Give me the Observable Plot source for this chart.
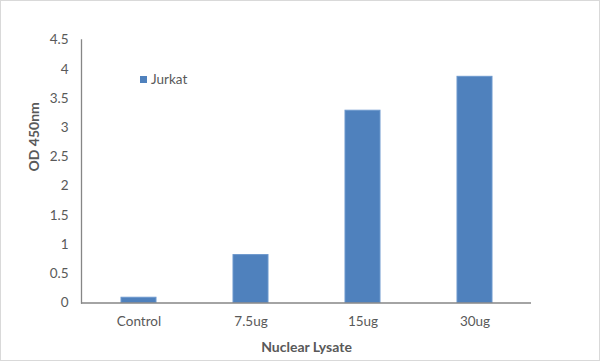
<!DOCTYPE html>
<html>
<head>
<meta charset="utf-8">
<script src="https://cdn.jsdelivr.net/npm/d3@7"></script>
<script src="https://cdn.jsdelivr.net/npm/@observablehq/plot@0.6"></script>
<style>
  html, body { margin: 0; padding: 0; background: #fff; }
  #wrap { position: relative; width: 600px; height: 361px; overflow: hidden; font-family: Lato, "Open Sans", sans-serif; }
  #border { position: absolute; left: 0; top: 0; width: 600px; height: 361px; box-sizing: border-box; border: 1px solid #d9d9d9; pointer-events: none; }
  #legend { position: absolute; left: 140px; top: 71px; display: flex; align-items: center; font-size: 13.5px; color: #595959; }
  #legend .sw { width: 7px; height: 7px; background: #4F81BD; margin-right: 4px; }
</style>
</head>
<body>
<div id="wrap">
  <div id="chart"></div>
  <div id="legend"><div class="sw"></div><span>Jurkat</span></div>
  <div id="border"></div>
</div>
<script>
const categories = ["Control", "7.5ug", "15ug", "30ug"];
const values = [0.09, 0.82, 3.29, 3.87];
const yTicks = [0, 0.5, 1, 1.5, 2, 2.5, 3, 3.5, 4, 4.5];
const seriesName = "Jurkat";
const xTitle = "Nuclear Lysate";
const yTitle = "OD 450nm";

const data = categories.map((c, i) => ({category: c, value: values[i], series: seriesName}));

const chart = Plot.plot({
  width: 600,
  height: 361,
  marginLeft: 81,
  marginRight: 69,
  marginTop: 39.5,
  marginBottom: 58.5,
  style: {fontFamily: "Lato, 'Open Sans', sans-serif", fontSize: "13.5px", color: "#595959", background: "transparent"},
  x: {domain: categories, paddingInner: 0.69, paddingOuter: 0.345, label: null},
  y: {domain: [0, 4.5], label: null},
  marks: [
    Plot.barY(data, {x: "category", y: "value", fill: "#4F81BD", stroke: "#6C98CD", strokeWidth: 1}),
    Plot.axisY({ticks: yTicks, tickSize: 0, tickPadding: 13, tickFormat: d => String(d), fill: "#595959", fontSize: 13.5}),
    Plot.axisX({tickSize: 0, tickPadding: 13, fill: "#595959", fontSize: 13.5}),
    Plot.ruleY([0], {stroke: "#868686", strokeWidth: 1.3}),
    Plot.frame({anchor: "left", stroke: "#868686", strokeWidth: 1.3}),
    Plot.text([xTitle], {frameAnchor: "bottom", dy: 45, lineAnchor: "middle", fontWeight: "bold", fontSize: 14, fill: "#595959"}),
    Plot.text([yTitle], {frameAnchor: "left", dx: -47, rotate: -90, fontWeight: "bold", fontSize: 14, fill: "#595959"})
  ]
});
document.getElementById("chart").appendChild(chart);
</script>
</body>
</html>
